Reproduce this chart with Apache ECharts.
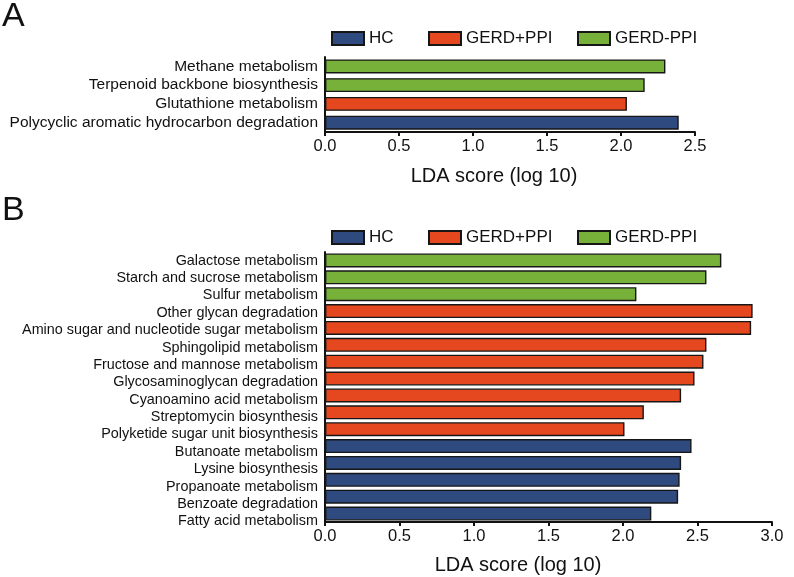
<!DOCTYPE html>
<html>
<head>
<meta charset="utf-8">
<script src="https://cdn.jsdelivr.net/npm/echarts@6/dist/echarts.min.js"></script>
<style>
  html, body { margin: 0; padding: 0; background: #fff; }
  #chart { width: 794px; height: 577px; }
</style>
</head>
<body>
<div id="chart"></div>
<script>
// panel A data
const catsA = ['Methane metabolism', 'Terpenoid backbone biosynthesis', 'Glutathione metabolism',
  'Polycyclic aromatic hydrocarbon degradation'];
const ldaA = [2.30, 2.16, 2.04, 2.39];
const groupA = ['GERD-PPI', 'GERD-PPI', 'GERD+PPI', 'HC'];

// panel B data
const catsB = ['Galactose metabolism', 'Starch and sucrose metabolism', 'Sulfur metabolism',
  'Other glycan degradation', 'Amino sugar and nucleotide sugar metabolism', 'Sphingolipid metabolism',
  'Fructose and mannose metabolism', 'Glycosaminoglycan degradation', 'Cyanoamino acid metabolism',
  'Streptomycin biosynthesis', 'Polyketide sugar unit biosynthesis', 'Butanoate metabolism',
  'Lysine biosynthesis', 'Propanoate metabolism', 'Benzoate degradation', 'Fatty acid metabolism'];
const ldaB = [2.66, 2.56, 2.09, 2.87, 2.86, 2.56, 2.54, 2.48, 2.39, 2.14, 2.01, 2.46, 2.39, 2.38, 2.37, 2.19];
const groupB = ['GERD-PPI', 'GERD-PPI', 'GERD-PPI', 'GERD+PPI', 'GERD+PPI', 'GERD+PPI', 'GERD+PPI',
  'GERD+PPI', 'GERD+PPI', 'GERD+PPI', 'GERD+PPI', 'HC', 'HC', 'HC', 'HC', 'HC'];

const groups = ['HC', 'GERD+PPI', 'GERD-PPI'];
const ticksA = [0.0, 0.5, 1.0, 1.5, 2.0, 2.5];
const ticksB = [0.0, 0.5, 1.0, 1.5, 2.0, 2.5, 3.0];

const colors = { 'HC': '#2e4a7e', 'GERD+PPI': '#e5481f', 'GERD-PPI': '#78b13a' };
const font = 'Liberation Sans, Arial, sans-serif';

let chart = echarts.init(document.getElementById('chart'), null, { renderer: 'canvas' });

//每组一个系列，同一堆叠，使单根柱居中
function makeSeries(gridIdx, vals, grp) {
  return groups.map(function (g) {
    return {
      name: g,
      type: 'bar',
      xAxisIndex: gridIdx,
      yAxisIndex: gridIdx,
      stack: 'p' + gridIdx,
      barWidth: 14,
      itemStyle: { color: colors[g], borderColor: '#161616', borderWidth: 1.4 },
      data: vals.map(function (v, i) { return grp[i] === g ? v : '-'; })
    };
  });
}

function valueAxis(gridIdx, ticks) {
  return {
    type: 'value',
    gridIndex: gridIdx,
    min: ticks[0],
    max: ticks[ticks.length - 1],
    interval: 0.5,
    splitLine: { show: false },
    axisLine: { show: true, lineStyle: { color: '#111', width: 2 } },
    axisTick: { show: true, length: 4, lineStyle: { color: '#111', width: 2 } },
    axisLabel: { color: '#111', fontFamily: font, fontSize: 16.5, margin: 6,
      formatter: function (v) { return v.toFixed(1); } }
  };
}

function catAxis(gridIdx, cats, showLabels, showLine, size, margin) {
  return {
    type: 'category',
    gridIndex: gridIdx,
    inverse: true,
    data: cats,
    axisLine: { show: showLine, lineStyle: { color: '#111', width: 2 } },
    axisTick: { show: false },
    axisLabel: { show: showLabels, interval: 0, color: '#111', fontFamily: font, fontSize: size, margin: margin }
  };
}

function legendItem(top, left, name) {
  return {
    top: top, left: left,
    padding: 0,
    data: [name],
    icon: 'rect',
    itemWidth: 32, itemHeight: 13, itemGap: 0,
    textStyle: { fontFamily: font, fontSize: 17, color: '#111' },
    selectedMode: false
  };
}

const option = {
  animation: false,
  backgroundColor: '#fff',
  grid: [
    { left: 325, top: 57, width: 370, height: 75 },
    { left: 325, top: 252, width: 447, height: 270 },
    // labels of panel B sit on a slightly looser pitch than the bars
    { left: 325, top: 252, width: 447, height: 278 }
  ],
  xAxis: [
    valueAxis(0, ticksA),
    valueAxis(1, ticksB),
    { type: 'value', gridIndex: 2, show: false, min: 0, max: 3 }
  ],
  yAxis: [
    catAxis(0, catsA, true, true, 15.5, 7),
    catAxis(1, catsB, false, true, 14.4, 7),
    catAxis(2, catsB, true, false, 14.4, 7)
  ],
  legend: [
    legendItem(30, 331, 'HC'),
    legendItem(30, 428, 'GERD+PPI'),
    legendItem(30, 577, 'GERD-PPI'),
    legendItem(229, 331, 'HC'),
    legendItem(229, 428, 'GERD+PPI'),
    legendItem(229, 577, 'GERD-PPI')
  ],
  graphic: [
    { type: 'text', left: 2, top: 0, style: { text: 'A', font: '34px ' + font, fill: '#111' } },
    { type: 'text', left: 2, top: 194, style: { text: 'B', font: '34px ' + font, fill: '#111' } },
    { type: 'text', x: 494, y: 176, style: { text: 'LDA score (log 10)', font: '20px ' + font,
      fill: '#111', align: 'center', verticalAlign: 'middle' } },
    { type: 'text', x: 518, y: 565, style: { text: 'LDA score (log 10)', font: '20px ' + font,
      fill: '#111', align: 'center', verticalAlign: 'middle' } }
  ],
  series: makeSeries(0, ldaA, groupA).concat(makeSeries(1, ldaB, groupB))
};

chart.setOption(option);
</script>
</body>
</html>
